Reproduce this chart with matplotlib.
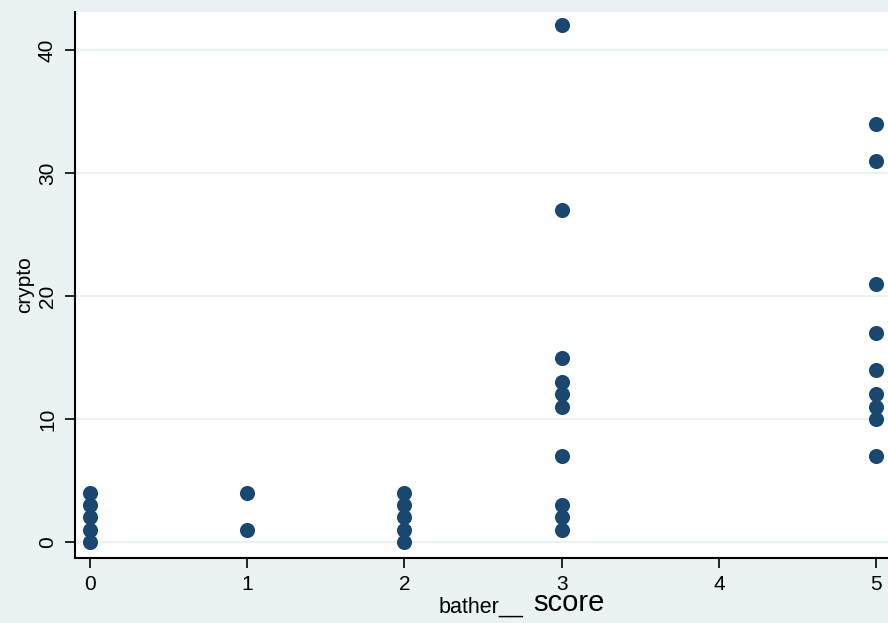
import matplotlib
matplotlib.use("Agg")
import matplotlib.pyplot as plt

bather_score = [0, 0, 0, 0, 0,
                1, 1,
                2, 2, 2, 2, 2,
                3, 3, 3, 3, 3, 3, 3, 3, 3, 3,
                5, 5, 5, 5, 5, 5, 5, 5, 5]
crypto = [0, 1, 2, 3, 4,
          1, 4,
          0, 1, 2, 3, 4,
          42, 27, 15, 13, 12, 11, 7, 3, 2, 1,
          34, 31, 21, 17, 14, 12, 11, 10, 7]
x_ticks = [0, 1, 2, 3, 4, 5]
y_ticks = [0, 10, 20, 30, 40]

plt.rcParams['font.family'] = ['Liberation Sans', 'DejaVu Sans']
bg = '#EAF2F3'
fig = plt.figure(figsize=(8.88, 6.23), dpi=100, facecolor=bg)
ax = fig.add_axes([75/888, 65/623, 1 - 75/888, (558-12)/623])
ax.set_facecolor('white')

ax.scatter(bather_score, crypto, s=118, color='#1A476F', linewidths=0, zorder=3)

ax.set_xlim(-0.095, 5.076)
ax.set_ylim(-1.3, 43.09)
ax.set_xticks(x_ticks)
ax.set_yticks(y_ticks)
ax.set_xticklabels([str(v) for v in x_ticks], fontsize=15)
ax.set_yticklabels([str(v) for v in y_ticks], fontsize=15, rotation=90, va='center')
ax.tick_params(axis='both', direction='out', length=7, width=1.2, color='black')
ax.tick_params(axis='y', pad=6)
ax.tick_params(axis='x', pad=5)
ax.grid(axis='y', color=bg, linewidth=1.5, zorder=0)
ax.set_axisbelow(True)
for s in ['top', 'right']:
    ax.spines[s].set_visible(False)
for s in ['left', 'bottom']:
    ax.spines[s].set_linewidth(1.5)
    ax.spines[s].set_color('black')

ax.set_ylabel('crypto', fontsize=15, labelpad=3)
fig.text(481/888, 1 - 607/623, 'bather__', fontsize=15.5, ha='center', va='center')
fig.text(569/888, 1 - 603/623, 'score', fontsize=21, ha='center', va='center')

fig.savefig('out.png', dpi=100, facecolor=bg)
